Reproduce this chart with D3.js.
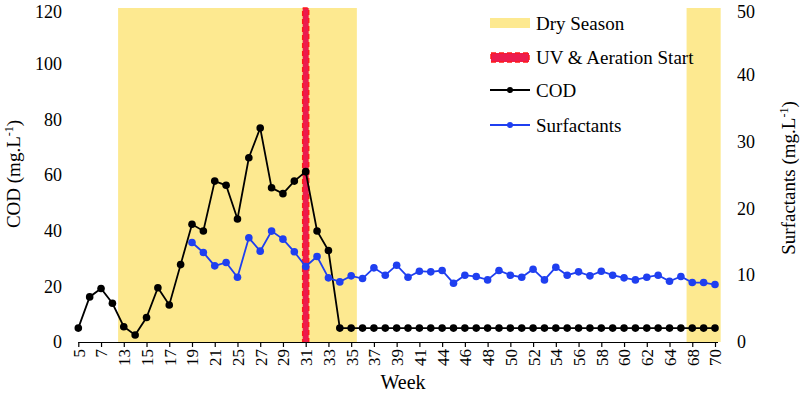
<!DOCTYPE html>
<html>
<head>
<meta charset="utf-8">
<script src="https://cdn.jsdelivr.net/npm/d3@7"></script>
<style>
  body { margin: 0; background: #fff; }
  svg text { font-family: "Liberation Serif", "Times New Roman", Times, Tinos, "Noto Serif", "DejaVu Serif", serif; }
</style>
</head>
<body>
<div id="chart"></div>
<script>
// weeks sampled (only every second one is labelled on the axis)
const weeks = [5, 6, 7, 8, 13, 14, 15, 16, 17, 18, 19, 20, 21, 23, 25, 26, 27, 28, 29, 30,
  31, 32, 33, 34, 35, 36, 37, 38, 39, 40, 41, 43, 44, 45, 46, 47, 48, 49, 50, 51,
  52, 53, 54, 55, 56, 57, 58, 59, 60, 61, 62, 63, 64, 66, 68, 69, 70];

const cod = [5.0, 16.2, 19.2, 13.9, 5.5, 2.5, 8.8, 19.5, 13.3, 27.8, 42.3, 39.9, 57.8, 56.3,
  44.2, 66.2, 76.9, 55.4, 53.3, 57.8, 61.2, 39.9, 32.9, 5.0, 5.0, 5.0, 5.0, 5.0, 5.0, 5.0,
  5.0, 5.0, 5.0, 5.0, 5.0, 5.0, 5.0, 5.0, 5.0, 5.0, 5.0, 5.0, 5.0, 5.0, 5.0, 5.0, 5.0,
  5.0, 5.0, 5.0, 5.0, 5.0, 5.0, 5.0, 5.0, 5.0, 5.0];

// surfactants start at week 19
const surfactants = [null, null, null, null, null, null, null, null, null, null,
  14.9, 13.4, 11.4, 11.9, 9.7, 15.6, 13.6, 16.6, 15.4, 13.5, 11.3, 12.8, 9.6, 9.0,
  9.9, 9.5, 11.1, 10.0, 11.5, 9.7, 10.6, 10.5, 10.7, 8.8, 10.0, 9.8, 9.3, 10.7, 10.0,
  9.7, 10.9, 9.3, 11.2, 10.0, 10.5, 9.9, 10.6, 10.0, 9.6, 9.3, 9.7, 10.0, 9.1, 9.8,
  8.9, 8.9, 8.6];

const drySeasons = [[13, 35], [68, 70]];
const uvWeek = 31;
const codTicks = [0, 20, 40, 60, 80, 100, 120];
const surfTicks = [0, 10, 20, 30, 40, 50];

const width = 800, height = 400;
const plot = { left: 78.3, right: 715, top: 8, bottom: 342 };
const serif = '"Liberation Serif", "Times New Roman", Times, serif';

const svg = d3.select('#chart').append('svg')
  .attr('width', width)
  .attr('height', height)
  .attr('font-family', serif);

const x = d3.scalePoint()
  .domain(weeks)
  .range([plot.left, plot.right]);
const step = x.step();

const y = d3.scaleLinear().domain([0, 120]).range([plot.bottom, plot.top]);
const y2 = d3.scaleLinear().domain([0, 50]).range([plot.bottom, plot.top]);

// dry season bands
svg.append('g')
  .selectAll('rect')
  .data(drySeasons)
  .join('rect')
  .attr('x', d => x(d[0]) - step / 2)
  .attr('y', plot.top)
  .attr('width', d => x(d[1]) - x(d[0]) + step)
  .attr('height', plot.bottom - plot.top)
  .attr('fill', '#fde990');

// UV & aeration start marker
svg.append('rect')
  .attr('x', x(uvWeek) - 3)
  .attr('y', plot.top)
  .attr('width', 6)
  .attr('height', plot.bottom - plot.top)
  .attr('fill', '#ec1c4e')
  .attr('stroke', '#ff1a1a')
  .attr('stroke-width', 1.5)
  .attr('stroke-dasharray', '5,3');

// x axis
const xAxis = svg.append('g')
  .attr('transform', 'translate(0,' + plot.bottom + ')')
  .call(d3.axisBottom(x)
    .tickValues(weeks.filter((d, i) => i % 2 === 0))
    .tickSizeOuter(0)
    .tickSizeInner(5)
    .tickPadding(6))
  .attr('font-family', serif);
xAxis.select('.domain').attr('stroke', '#000').attr('stroke-width', 1.2)
  .attr('d', 'M' + plot.left + ',0.5H' + (plot.right + 3));
xAxis.selectAll('.tick line').attr('stroke', '#000').attr('stroke-width', 1.2);
xAxis.selectAll('.tick text')
  .attr('font-size', 17)
  .attr('fill', '#000')
  .attr('transform', 'rotate(-90)')
  .attr('text-anchor', 'end')
  .attr('x', -7)
  .attr('y', 0)
  .attr('dy', '0.35em');

// left y axis (labels only)
const yAxis = svg.append('g')
  .attr('transform', 'translate(62,0)')
  .call(d3.axisLeft(y).tickValues(codTicks).tickSize(0).tickPadding(0))
  .attr('font-family', serif);
yAxis.select('.domain').remove();
yAxis.selectAll('text').attr('font-size', 18).attr('fill', '#000')
  .attr('dy', d => d === 120 ? '0.5em' : '0.32em');

// right y axis (labels only)
const yAxis2 = svg.append('g')
  .attr('transform', 'translate(737,0)')
  .call(d3.axisRight(y2).tickValues(surfTicks).tickSize(0).tickPadding(0))
  .attr('font-family', serif);
yAxis2.select('.domain').remove();
yAxis2.selectAll('text').attr('font-size', 18).attr('fill', '#000')
  .attr('dy', d => d === 50 ? '0.5em' : '0.32em');

// axis titles
const t1 = svg.append('text')
  .attr('transform', 'translate(20,174) rotate(-90)')
  .attr('text-anchor', 'middle')
  .attr('font-size', 19);
t1.append('tspan').text('COD (mg.L');
t1.append('tspan').attr('font-size', 12).attr('dy', -7).text('-1');
t1.append('tspan').attr('dy', 7).text(')');

const t2 = svg.append('text')
  .attr('transform', 'translate(795,178) rotate(-90)')
  .attr('text-anchor', 'middle')
  .attr('font-size', 19);
t2.append('tspan').text('Surfactants (mg.L');
t2.append('tspan').attr('font-size', 12).attr('dy', -7).text('-1');
t2.append('tspan').attr('dy', 7).text(')');

svg.append('text')
  .attr('x', 403)
  .attr('y', 389)
  .attr('text-anchor', 'middle')
  .attr('font-size', 20)
  .text('Week');

// series
const codData = weeks.map((w, i) => ({ w, v: cod[i] }));
const surfData = weeks.map((w, i) => ({ w, v: surfactants[i] })).filter(d => d.v != null);

svg.append('path')
  .datum(codData)
  .attr('fill', 'none')
  .attr('stroke', '#000')
  .attr('stroke-width', 1.8)
  .attr('d', d3.line().x(d => x(d.w)).y(d => y(d.v)));
svg.append('g')
  .selectAll('circle')
  .data(codData)
  .join('circle')
  .attr('cx', d => x(d.w))
  .attr('cy', d => y(d.v))
  .attr('r', 3.8)
  .attr('fill', '#000');

svg.append('path')
  .datum(surfData)
  .attr('fill', 'none')
  .attr('stroke', '#1f3ff0')
  .attr('stroke-width', 1.8)
  .attr('d', d3.line().x(d => x(d.w)).y(d => y2(d.v)));
svg.append('g')
  .selectAll('circle')
  .data(surfData)
  .join('circle')
  .attr('cx', d => x(d.w))
  .attr('cy', d => y2(d.v))
  .attr('r', 3.8)
  .attr('fill', '#1f3ff0');

// legend
const legend = svg.append('g').attr('transform', 'translate(490,0)');
legend.append('rect')
  .attr('x', 0).attr('y', 18).attr('width', 40).attr('height', 10)
  .attr('fill', '#fde990');
legend.append('rect')
  .attr('x', 1).attr('y', 53).attr('width', 38).attr('height', 9)
  .attr('fill', '#ec1c4e')
  .attr('stroke', '#ff1a1a')
  .attr('stroke-width', 1.5)
  .attr('stroke-dasharray', '5,3');
[['#000', 90], ['#1f3ff0', 125]].forEach(([c, ly]) => {
  legend.append('line')
    .attr('x1', 0).attr('x2', 40).attr('y1', ly).attr('y2', ly)
    .attr('stroke', c).attr('stroke-width', 1.8);
  legend.append('circle')
    .attr('cx', 20).attr('cy', ly).attr('r', 3).attr('fill', c);
});
const labels = [['Dry Season', 23], ['UV & Aeration Start', 57], ['COD', 90], ['Surfactants', 125]];
legend.selectAll('text.lab')
  .data(labels)
  .join('text')
  .attr('class', 'lab')
  .attr('x', 46)
  .attr('y', d => d[1])
  .attr('dy', '0.35em')
  .attr('font-size', 19)
  .text(d => d[0]);
</script>
</body>
</html>
